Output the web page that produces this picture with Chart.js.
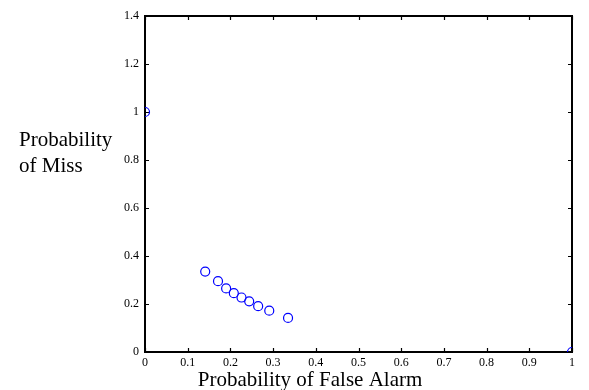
<!DOCTYPE html>
<html><head><meta charset="utf-8">
<script src="https://cdn.jsdelivr.net/npm/chart.js@4"></script>
<style>html,body{margin:0;padding:0;background:#fff}#wrap{width:589px;height:390px;position:relative}</style>
</head><body><div id="wrap"><canvas id="c" width="589" height="390"></canvas></div>
<script>
const falseAlarm = [0, 0.141, 0.171, 0.190, 0.208, 0.226, 0.244, 0.265, 0.291, 0.335, 1];
const miss =       [1, 0.335, 0.295, 0.265, 0.245, 0.227, 0.211, 0.191, 0.172, 0.142, 0];
const xTicks = [0, 0.1, 0.2, 0.3, 0.4, 0.5, 0.6, 0.7, 0.8, 0.9, 1];
const yTicks = [0, 0.2, 0.4, 0.6, 0.8, 1, 1.2, 1.4];
const xTitle = 'Probability of False Alarm';
const yTitle = ['Probability', 'of Miss'];

const SERIF = '"Liberation Serif", "Times New Roman", serif';

const framePlugin = {
  id: 'frame',
  beforeDatasetsDraw(chart) {
    const {ctx, chartArea: a, scales} = chart;
    ctx.save();
    ctx.strokeStyle = '#000';
    ctx.lineWidth = 1.2;
    const tl = 4;
    ctx.beginPath();
    xTicks.forEach(v => {
      const px = Math.round(scales.x.getPixelForValue(v)) + 0.5;
      ctx.moveTo(px, a.bottom); ctx.lineTo(px, a.bottom - tl);
      ctx.moveTo(px, a.top); ctx.lineTo(px, a.top + tl);
    });
    yTicks.forEach(v => {
      const py = Math.round(scales.y.getPixelForValue(v)) + 0.5;
      ctx.moveTo(a.left, py); ctx.lineTo(a.left + tl, py);
      ctx.moveTo(a.right, py); ctx.lineTo(a.right - tl, py);
    });
    ctx.stroke();
    ctx.lineWidth = 2;
    ctx.strokeRect(a.left, a.top, a.right - a.left, a.bottom - a.top);
    ctx.restore();
  },
  afterDraw(chart) {
    const ctx = chart.ctx;
    ctx.save();
    ctx.fillStyle = '#000';
    ctx.font = '21px ' + SERIF;
    ctx.textAlign = 'center';
    ctx.textBaseline = 'alphabetic';
    ctx.fillText(xTitle, 310, 385.5);
    ctx.textAlign = 'left';
    ctx.fillText(yTitle[0], 19, 146);
    ctx.fillText(yTitle[1], 19, 172);
    ctx.restore();
  }
};

new Chart(document.getElementById('c'), {
  type: 'scatter',
  data: {
    datasets: [{
      data: falseAlarm.map((x, i) => ({x: x, y: miss[i]})),
      showLine: false,
      pointStyle: 'circle',
      pointRadius: 4.5,
      pointHoverRadius: 4.5,
      pointBorderWidth: 1.2,
      borderColor: '#0000ff',
      backgroundColor: 'rgba(0,0,0,0)',
      pointBackgroundColor: 'rgba(0,0,0,0)',
      clip: 0
    }]
  },
  options: {
    responsive: false,
    devicePixelRatio: 1,
    animation: false,
    events: [],
    layout: {padding: {left: 0, top: 16, right: 17, bottom: 0}},
    plugins: {legend: {display: false}, tooltip: {enabled: false}},
    scales: {
      x: {
        type: 'linear', min: 0, max: 1,
        afterBuildTicks: s => { s.ticks = xTicks.map(v => ({value: v})); },
        afterFit: s => { s.height = 38; },
        grid: {display: false, drawTicks: false},
        border: {display: false},
        ticks: {
          color: '#000', font: {family: SERIF, size: 12}, padding: 4,
          maxRotation: 0, autoSkip: false,
          callback: v => String(v)
        }
      },
      y: {
        type: 'linear', min: 0, max: 1.4,
        afterBuildTicks: s => { s.ticks = yTicks.map(v => ({value: v})); },
        afterFit: s => { s.width = 145; },
        grid: {display: false, drawTicks: false},
        border: {display: false},
        ticks: {
          color: '#000', font: {family: SERIF, size: 12}, padding: 6,
          autoSkip: false,
          callback: v => String(v)
        }
      }
    }
  },
  plugins: [framePlugin]
});
</script></body></html>
